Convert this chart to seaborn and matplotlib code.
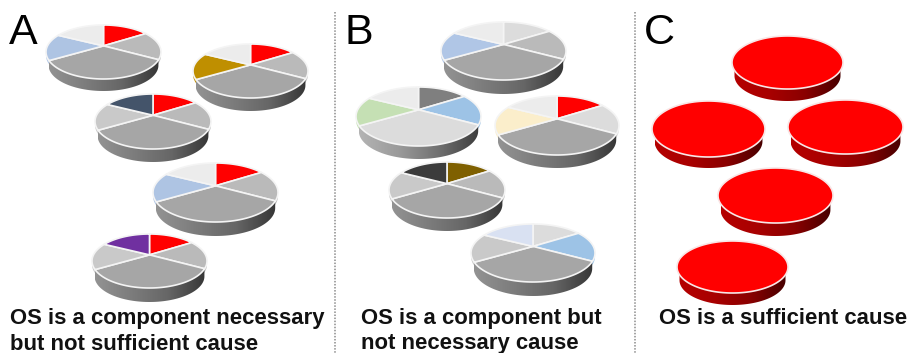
import numpy as np
import matplotlib
matplotlib.use("Agg")
import matplotlib.pyplot as plt
from matplotlib.patches import Polygon
from matplotlib.path import Path
from matplotlib.transforms import Affine2D, Transform
import seaborn as sns

# Pie contents: clockwise shares from twelve o'clock
SHARES = [16, 17, 33.5, 16, 17.5]
WHOLE = [100]

RED = "#ff0000"
PALE = "#ececec"
MID = "#bababa"
BIG = "#a6a6a6"
LIGHT = "#c9c9c9"
FAINT = "#dcdcdc"

PANEL_A_COLORS = [
    [RED, MID, BIG, "#aec4e3", PALE],
    [RED, MID, BIG, "#bf8f00", PALE],
    [RED, MID, BIG, LIGHT, "#44546a"],
    [RED, MID, BIG, "#aec4e3", PALE],
    [RED, MID, BIG, LIGHT, "#7030a0"],
]
PANEL_B_COLORS = [
    [FAINT, MID, BIG, "#b0c6e6", PALE],
    ["#7f7f7f", "#9dc3e6", FAINT, "#c5e0b4", PALE],
    [RED, FAINT, BIG, "#fbeecb", PALE],
    ["#7f6000", MID, BIG, LIGHT, "#3b3b3b"],
    [FAINT, "#9dc3e6", BIG, LIGHT, "#d9e1f2"],
]

PANEL_LABELS = ["A", "B", "C"]
CAPTIONS = [
    "OS is a component necessary\nbut not sufficient cause",
    "OS is a component but\nnot necessary cause",
    "OS is a sufficient cause",
]

# Disc outlines in pixels: left, right, top, bottom of the face, bottom of the rim
A_BOXES = [
    (46, 161, 25, 79, 91),
    (193, 308, 44, 98, 111),
    (95, 211, 94, 149, 162),
    (153, 278, 163, 222, 236),
    (92, 207, 234, 288, 302),
]
B_BOXES = [
    (441, 566, 22, 80, 94),
    (356, 481, 87, 146, 159),
    (495, 619, 96, 155, 168),
    (389, 505, 162, 218, 231),
    (471, 595, 224, 282, 296),
]
C_BOXES = [
    (732, 843, 36, 89, 101),
    (652, 765, 101, 157, 168),
    (788, 903, 100, 154, 167),
    (718, 833, 168, 223, 236),
    (677, 788, 241, 293, 305),
]

W, H = 910, 353
TILT = 0.227

sns.set_theme(style="white")
plt.rcParams["font.family"] = ["Liberation Sans", "DejaVu Sans"]

GREY_RIM = sns.blend_palette(["#939393", "#7c7c7c", "#666666", "#363636"], as_cmap=True)
SOFT_RIM = sns.blend_palette(["#b4b4b4", "#9a9a9a", "#707070", "#3c3c3c"], as_cmap=True)
RED_RIM = sns.blend_palette(["#b50000", "#a80000", "#8a0000", "#480000"], as_cmap=True)


class TiltedDisc(Transform):
    """Projects a unit pie onto a receding disc, in pixel coordinates."""
    input_dims = 2
    output_dims = 2
    is_separable = False
    has_inverse = False

    def __init__(self, left, right, top, bottom, lift=0.0):
        super().__init__()
        self.cx = (left + right) / 2
        self.rx = (right - left) / 2
        self.cy = (top + bottom) / 2 + lift
        self.ry = (bottom - top) / 2

    def transform_non_affine(self, values):
        values = np.asarray(values, dtype=float)
        x, y = values[:, 0], values[:, 1]
        w = 1 + TILT * y
        px = self.cx + self.rx * (x / w) * np.sqrt(1 - TILT ** 2)
        py = self.cy - self.ry * (y / w + TILT / (1 - TILT ** 2)) * (1 - TILT ** 2)
        return np.column_stack([px, py])

    def transform_path_non_affine(self, path):
        # Flatten the arcs first so the projected outline stays a true ellipse
        fine = path.transformed(Affine2D().scale(4000))
        rings = fine.to_polygons(closed_only=True)
        return Path(self.transform_non_affine(rings[0] / 4000), closed=True)


def draw_face(ax, shares, colors, box, zorder, lift=0.0, edge="#f4f4f4", lw=1.2):
    tilt = TiltedDisc(*box[:4], lift=lift)
    wedges, _ = ax.pie(
        shares, colors=colors, startangle=90, counterclock=False,
        wedgeprops={"edgecolor": edge, "linewidth": lw, "zorder": zorder},
    )
    for wedge in wedges:
        wedge.set_transform(tilt + ax.transData)
        wedge.set_clip_on(False)


def draw_rim(ax, box, cmap, zorder):
    left, right, top, bottom, rim_bottom = box
    cx, rx = (left + right) / 2, (right - left) / 2 * 0.955
    ry = (bottom - top) / 2 * 0.95
    mid = rim_bottom - ry
    theta = np.linspace(np.pi, 0, 120)
    arc = np.column_stack([cx + rx * np.cos(theta), mid + ry * np.sin(theta)])
    top_y = (top + bottom) / 2
    outline = np.vstack([[cx - rx, top_y], arc, [cx + rx, top_y]])
    image = ax.imshow(
        np.linspace(0, 1, 256)[None, :], cmap=cmap, aspect="auto", zorder=zorder,
        extent=(cx - rx, cx + rx, rim_bottom, top_y),
    )
    image.set_clip_path(Polygon(outline, closed=True, transform=ax.transData))


fig = plt.figure(figsize=(W / 100, H / 100), dpi=100)
ax = fig.add_axes([0, 0, 1, 1])

layer = 1
for color_sets, boxes in ((PANEL_A_COLORS, A_BOXES), (PANEL_B_COLORS, B_BOXES)):
    for colors, box in zip(color_sets, boxes):
        # Coloured sliver under the face, then the shaded rim, then the face itself
        draw_face(ax, SHARES, colors, box, layer, lift=3.5, edge="none", lw=0)
        rim = SOFT_RIM if colors[2] == FAINT else GREY_RIM
        draw_rim(ax, box, rim, layer + 1)
        draw_face(ax, SHARES, colors, box, layer + 2)
        layer += 3

for box in C_BOXES:
    draw_rim(ax, box, RED_RIM, layer)
    draw_face(ax, WHOLE, [RED], box, layer + 1, edge="#f8e6e6", lw=1.2)
    layer += 2

ax.set_aspect("auto")
ax.set_xlim(0, W)
ax.set_ylim(H, 0)
ax.axis("off")

# Panel separators
for x in (334.5, 635):
    ax.plot([x, x], [12, H], color="#8c8c8c", lw=1.1, ls=(0, (1, 1)), zorder=1, clip_on=False)

# Panel letters
for label, x in zip(PANEL_LABELS, (9, 344, 644)):
    ax.text(x, 44, label, fontsize=31, color="black", ha="left", va="baseline", zorder=200)

# Captions, one line at a time so the spacing stays fixed
caption_x = (10, 361, 659)
for caption, x in zip(CAPTIONS, caption_x):
    for row, line in enumerate(caption.split("\n")):
        ax.text(x, 324 + row * 25.5, line, fontsize=15.9, fontweight="bold",
                color="#111111", ha="left", va="baseline", zorder=200)

fig.savefig("out.png", dpi=100)
